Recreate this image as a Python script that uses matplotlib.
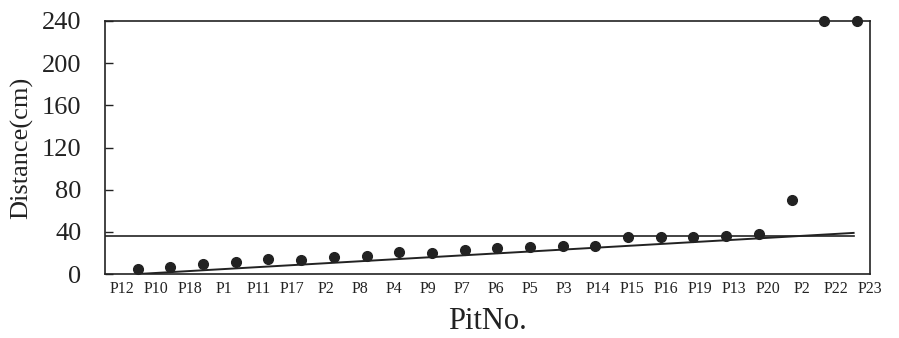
import numpy as np
import matplotlib.pyplot as plt

plt.rcParams['font.family'] = ['Liberation Serif', 'DejaVu Serif']

# pit labels in plotted order
pits = ['P12', 'P10', 'P18', 'P1', 'P11', 'P17', 'P2', 'P8', 'P4', 'P9', 'P7',
        'P6', 'P5', 'P3', 'P14', 'P15', 'P16', 'P19', 'P13', 'P20', 'P2',
        'P22', 'P23']
# distance (cm)
distance = [4.5, 6.5, 9.5, 11, 14, 13.5, 16, 17.5, 20.5, 20, 23,
            24.5, 25.5, 27, 27, 35, 35, 35, 36, 38, 70,
            240, 240]

# reference lines
mean_level = 36.5
trend_x = [1, 22.9]
trend_y = [0, 39]

x = np.arange(1, len(pits) + 1)

fig = plt.figure(figsize=(8.99, 3.38), dpi=100)
ax = fig.add_axes([0.1168, 0.1893, 0.8509, 0.7486])

ink = '#222222'
ax.plot(x, distance, 'o', color=ink, markersize=7, clip_on=False, zorder=3)
ax.plot([0, 22.9], [mean_level, mean_level], color=ink, lw=1.2)
ax.plot(trend_x, trend_y, color=ink, lw=1.4)

ax.set_xlim(0, 23)
ax.set_ylim(0, 240)
ax.set_yticks([0, 40, 80, 120, 160, 200, 240])
ax.tick_params(axis='y', direction='in', length=6, width=1, pad=17,
               labelsize=19, colors=ink)

# tick labels are typeset a bit wider than the point spacing
ax.set_xticks(np.linspace(0.53, 23.4, len(pits)))
ax.set_xticklabels(pits)
ax.tick_params(axis='x', length=0, pad=5, labelsize=11.5, colors=ink)

for s in ax.spines.values():
    s.set_color(ink)
    s.set_linewidth(1.2)

ax.set_ylabel('Distance(cm)', fontsize=19, color=ink, labelpad=6)
ax.set_xlabel('PitNo.', fontsize=22, color=ink, labelpad=7)

fig.savefig('out.png', dpi=100)
